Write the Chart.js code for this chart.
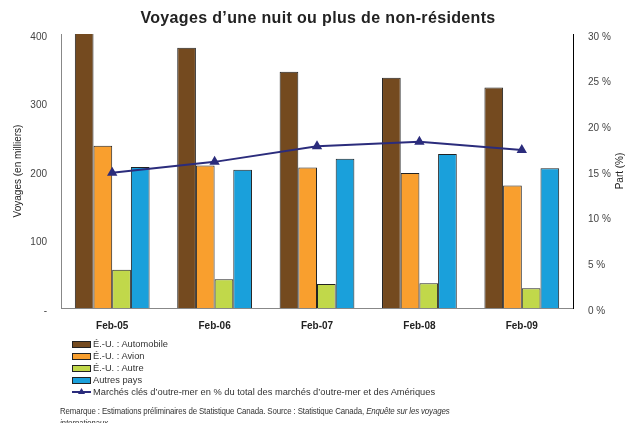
<!DOCTYPE html>
<html lang="fr">
<head>
<meta charset="utf-8">
<script src="https://cdn.jsdelivr.net/npm/chart.js@4"></script>
<style>
  html, body { margin:0; padding:0; background:#fff; overflow:hidden; }
  body { width:626px; height:423px; position:relative; font-family:"Liberation Sans", Arial, sans-serif; color:#222; }
  #title { position:absolute; left:0; top:8px; width:636px; text-align:center; font-size:16px; font-weight:bold; letter-spacing:0.35px; line-height:20px; color:#222; }
  #wrap { position:absolute; left:0; top:0; width:626px; height:344px; }
  #legend { position:absolute; left:72px; top:338px; font-size:9.3px; line-height:12px; color:#333; }
  #legend .row { display:flex; align-items:center; height:12px; }
  #legend .sw { width:17px; height:5px; border:1px solid #222; margin-right:2px; }
  #legend .ln { width:19px; height:12px; margin-right:2px; }
  #note { position:absolute; left:60px; top:405px; width:480px; font-size:9.4px; letter-spacing:-0.15px; line-height:12px; color:#333;
          transform:scaleX(0.84); transform-origin:0 0; }
</style>
</head>
<body>
<div id="wrap"><canvas id="c"></canvas></div>
<div id="title">Voyages d’une nuit ou plus de non-résidents</div>
<div id="legend"></div>
<div id="note">Remarque : Estimations préliminaires de Statistique Canada. Source : Statistique Canada, <i>Enquête sur les voyages internationaux</i></div>
<script>
// categories and series
const years = ['Feb-05', 'Feb-06', 'Feb-07', 'Feb-08', 'Feb-09'];
const usAuto  = [410, 380, 345, 336, 322];
const usAir   = [237, 208, 205, 197, 179];
const usOther = [56, 42, 35, 36, 29];
const other   = [206, 202, 218, 225, 204];
const sharePct = [14.8, 16.0, 17.7, 18.2, 17.3];

const seriesNames = ['É.-U. : Automobile', 'É.-U. : Avion', 'É.-U. : Autre', 'Autres pays',
  'Marchés clés d’outre-mer en % du total des marchés d’outre-mer et des Amériques'];
const colors = ['#744A1F', '#F99F2E', '#C1D84A', '#1AA0DB', '#2B2C7C'];

const FONT = '"Liberation Sans", Arial, sans-serif';

// right axis title reads bottom-to-top in the original
const rightTitle = {
  id: 'rightTitle',
  afterDraw(chart) {
    const ctx = chart.ctx;
    ctx.save();
    ctx.translate(620, 171);
    ctx.rotate(-Math.PI / 2);
    ctx.font = '10px ' + FONT;
    ctx.fillStyle = '#222';
    ctx.textAlign = 'center';
    ctx.textBaseline = 'middle';
    ctx.fillText('Part (%)', 0, 0);
    ctx.restore();
  }
};

const bar = (i, data) => ({
  type: 'bar', label: seriesNames[i], data,
  backgroundColor: colors[i], borderColor: '#222', borderWidth: 1,
  yAxisID: 'y', order: 1
});

new Chart(document.getElementById('c'), {
  data: {
    labels: years,
    datasets: [
      bar(0, usAuto), bar(1, usAir), bar(2, usOther), bar(3, other),
      { type: 'line', label: seriesNames[4], data: sharePct, yAxisID: 'y1', order: 0,
        borderColor: colors[4], backgroundColor: colors[4], borderWidth: 2,
        pointStyle: 'triangle', pointRadius: 4, tension: 0 }
    ]
  },
  options: {
    responsive: true, maintainAspectRatio: false, animation: false,
    datasets: { bar: { barPercentage: 1, categoryPercentage: 0.73 } },
    layout: { padding: { top: 34, bottom: 0, left: 12, right: 0 } },
    plugins: {
      legend: { display: false },
      tooltip: { enabled: false },
      title: { display: false }
    },
    scales: {
      x: {
        grid: { display: false, drawTicks: false },
        border: { color: '#888', width: 1 },
        ticks: { color: '#222', font: { family: FONT, size: 10, weight: 'bold' }, padding: 12 }
      },
      y: {
        position: 'left', min: 0, max: 400,
        grid: { display: false, drawTicks: false },
        border: { color: '#888', width: 1 },
        ticks: { stepSize: 100, color: '#444', font: { family: FONT, size: 10 }, padding: 14,
          labelOffset: 3, callback: v => v === 0 ? '-' : v },
        title: { display: true, text: 'Voyages (en milliers)', color: '#222',
          font: { family: FONT, size: 10 }, padding: { top: 0, bottom: 0 } },
        afterFit: s => { s.width = 49; }
      },
      y1: {
        position: 'right', min: 0, max: 30,
        grid: { display: false, drawTicks: false },
        border: { color: '#000', width: 1 },
        ticks: { stepSize: 5, color: '#444', font: { family: FONT, size: 10 }, padding: 15,
          labelOffset: 3, callback: v => v + ' %' },
        afterFit: s => { s.width = 53; }
      }
    }
  },
  plugins: [rightTitle]
});

// legend built from the same names/colours
const lg = document.getElementById('legend');
seriesNames.forEach((n, i) => {
  const row = document.createElement('div');
  row.className = 'row';
  if (i < 4) {
    row.innerHTML = `<span class="sw" style="background:${colors[i]}"></span><span>${n}</span>`;
  } else {
    row.innerHTML = `<svg class="ln" width="19" height="12"><line x1="0" y1="6" x2="19" y2="6" stroke="${colors[i]}" stroke-width="2"/><polygon points="9.5,2 13,8 6,8" fill="${colors[i]}"/></svg><span>${n}</span>`;
  }
  lg.appendChild(row);
});
</script>
</body>
</html>
